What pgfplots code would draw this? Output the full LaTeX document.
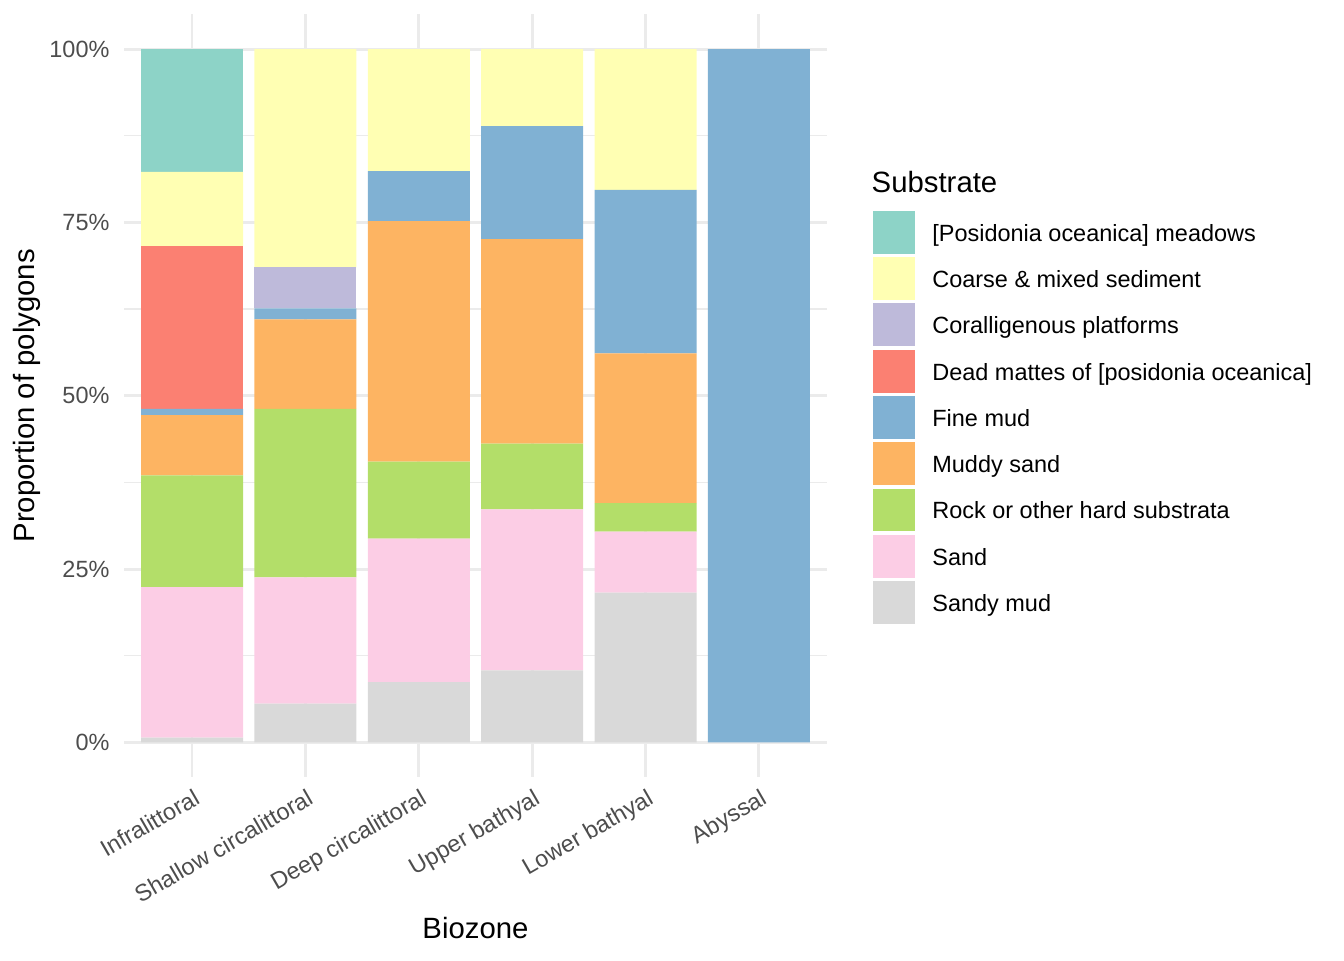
\documentclass[border=0pt]{standalone}
\usepackage{pgfplots}
\pgfplotsset{compat=1.18}
\usepackage{pgfplotstable}
\usepackage{fontspec}
\setmainfont{Liberation Sans}
\definecolor{cPos}{HTML}{8DD3C7}
\definecolor{cCoa}{HTML}{FFFFB3}
\definecolor{cCor}{HTML}{BEBADA}
\definecolor{cDea}{HTML}{FB8072}
\definecolor{cFin}{HTML}{80B1D3}
\definecolor{cMud}{HTML}{FDB462}
\definecolor{cRoc}{HTML}{B3DE69}
\definecolor{cSan}{HTML}{FCCDE5}
\definecolor{cSmu}{HTML}{D9D9D9}
\definecolor{gridc}{HTML}{EBEBEB}
\definecolor{tickc}{HTML}{4D4D4D}
\pgfplotstableread{
x SandyMud Sand Rock MuddySand FineMud DeadMattes Coral Coarse Posidonia
0 0.7  21.7 16.1 8.7  0.9  23.5 0   10.7 17.7
1 5.6  18.2 24.3 12.9 1.6  0    5.9 31.5 0
2 8.7  20.7 11.1 34.7 7.2  0    0   17.6 0
3 10.4 23.2 9.5  29.5 16.3 0    0   11.1 0
4 21.6 8.8  4.1  21.6 23.6 0    0   20.3 0
5 0    0    0    0    100  0    0   0    0
}\datatable
\begin{document}
\begin{tikzpicture}
\begin{axis}[
  name=ax,
  scale only axis,
  width=263.6pt, height=286pt,
  xmin=-0.6, xmax=5.6, ymin=-5, ymax=105,
  ybar stacked, bar width=0.9,
  axis line style={draw=none},
  major tick length=0pt, minor tick length=0pt,
  xtick={0,1,2,3,4,5},
  xticklabels={Infralittoral,Shallow circalittoral,Deep circalittoral,Upper bathyal,Lower bathyal,Abyssal},
  ytick={0,25,50,75,100},
  yticklabels={0\%,25\%,50\%,75\%,100\%},
  minor ytick={12.5,37.5,62.5,87.5},
  xmajorgrids, ymajorgrids, yminorgrids,
  major grid style={draw=gridc, line width=1.07pt},
  minor grid style={draw=gridc, line width=0.53pt},
  /pgf/number format/assume math mode=true,
  ticklabel style={font=\fontsize{8.8}{10}\selectfont, text=tickc},
  yticklabel style={inner sep=0pt, xshift=-5.25pt},
  xticklabel style={inner sep=0pt, xshift=0.3pt, yshift=-3.9pt, rotate=30, anchor=north east},
  xlabel={Biozone}, ylabel={Proportion of polygons},
  label style={font=\fontsize{11}{13}\selectfont},
  xlabel style={at={(axis description cs:0.5,-0.1979)}, anchor=center},
  ylabel style={at={(axis description cs:-0.1381,0.5)}, anchor=center},
  reverse legend,
  legend cell align=left,
  legend style={at={(1,0.4715)}, anchor=west, xshift=17.4pt, draw=none, fill=none,
    inner sep=0pt, outer sep=0pt, row sep=1.25pt,
    font=\fontsize{8.8}{10}\selectfont,
    nodes={inner sep=0pt},
    /tikz/every odd column/.append style={column sep=6.4pt}},
  legend image code/.code={\fill[#1] (0pt,-7.15pt) rectangle (15.75pt,8.95pt);},
  every axis plot/.append style={draw=none},
]
\addplot[fill=cSmu] table[x=x,y=SandyMud]{\datatable};
\addlegendentry{Sandy mud}
\addplot[fill=cSan] table[x=x,y=Sand]{\datatable};
\addlegendentry{Sand}
\addplot[fill=cRoc] table[x=x,y=Rock]{\datatable};
\addlegendentry{Rock or other hard substrata}
\addplot[fill=cMud] table[x=x,y=MuddySand]{\datatable};
\addlegendentry{Muddy sand}
\addplot[fill=cFin] table[x=x,y=FineMud]{\datatable};
\addlegendentry{Fine mud}
\addplot[fill=cDea] table[x=x,y=DeadMattes]{\datatable};
\addlegendentry{{\relax Dead mattes of [posidonia oceanica]}}
\addplot[fill=cCor] table[x=x,y=Coral]{\datatable};
\addlegendentry{Coralligenous platforms}
\addplot[fill=cCoa] table[x=x,y=Coarse]{\datatable};
\addlegendentry{Coarse \& mixed sediment}
\addplot[fill=cPos] table[x=x,y=Posidonia]{\datatable};
\addlegendentry{{\relax [Posidonia oceanica] meadows}}
\end{axis}
\node[anchor=west, inner sep=0pt, font=\fontsize{11}{13}\selectfont] at ([xshift=16.6pt, yshift=-63pt]ax.north east) {Substrate};
\pgfresetboundingbox
\path ([xshift=-46.5pt,yshift=-68.6pt]ax.south west) rectangle ++(504pt,360pt);
\end{tikzpicture}
\end{document}
